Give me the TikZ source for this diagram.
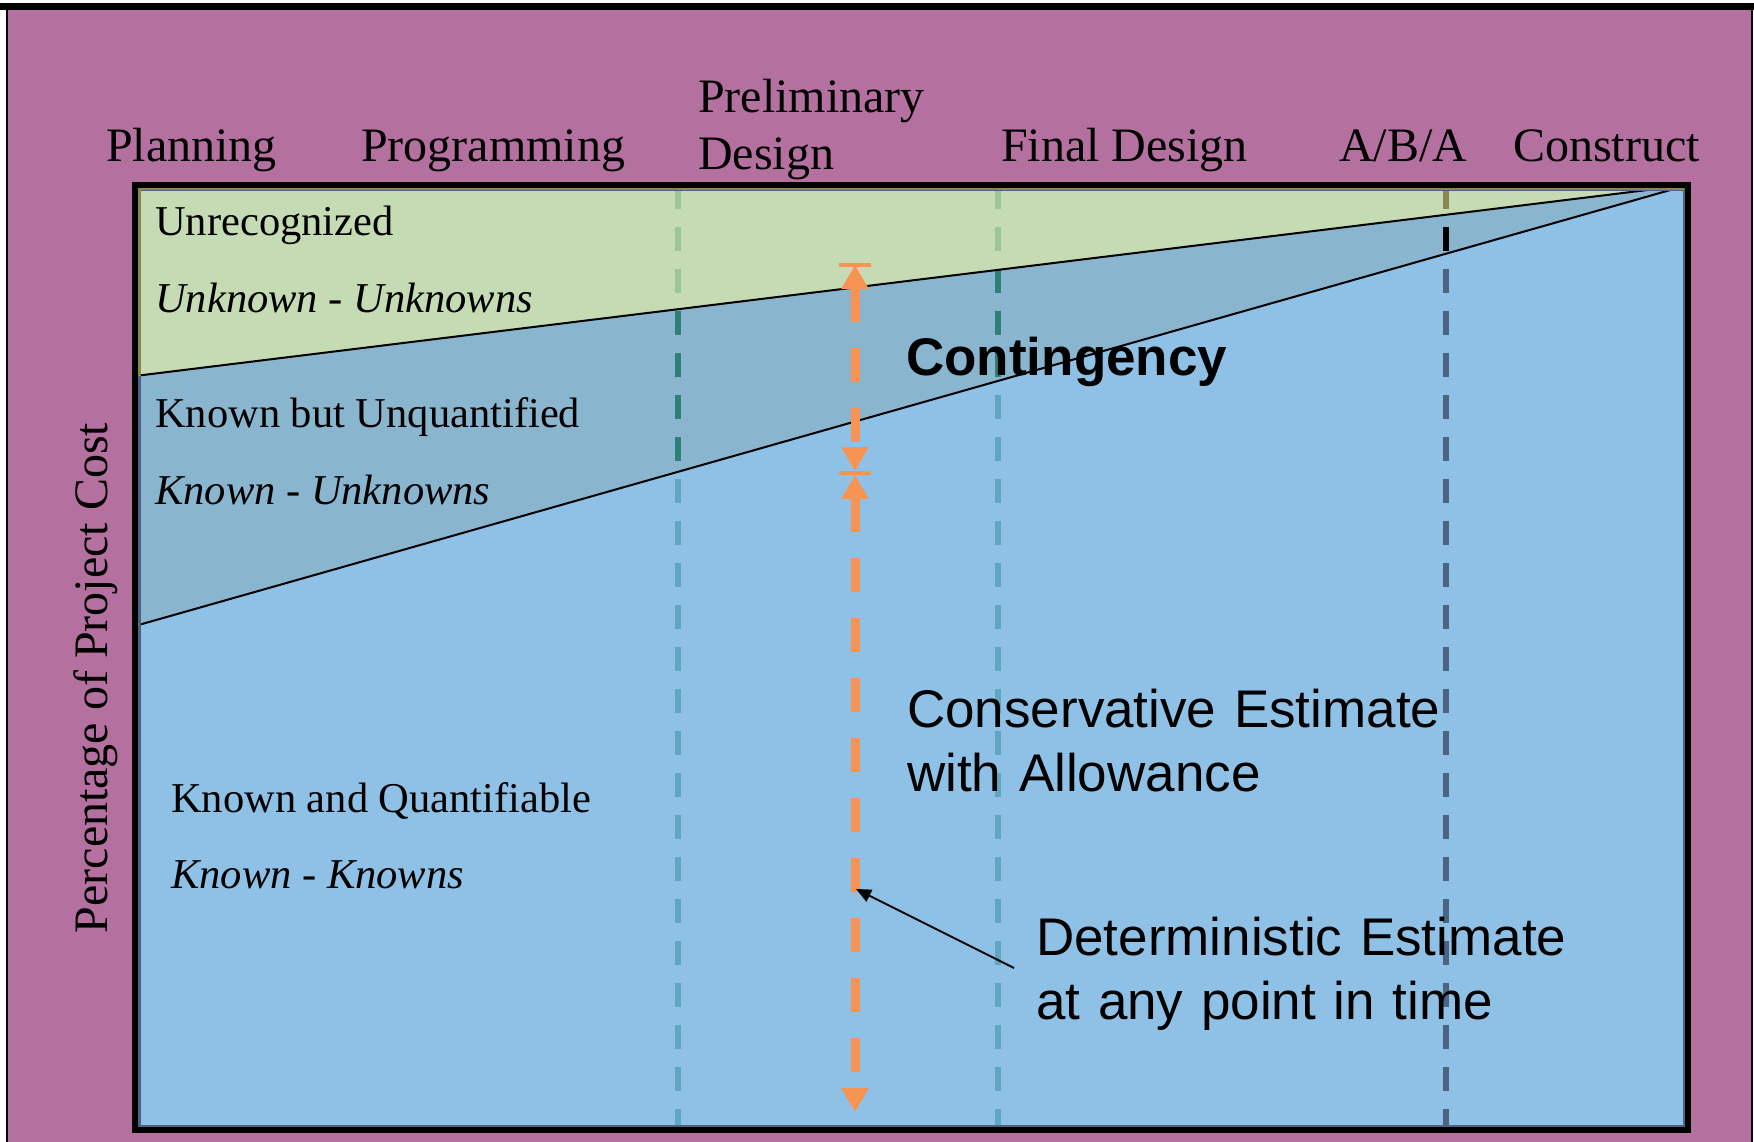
\documentclass[tikz,border=0pt]{standalone}
\usepackage{fontspec}
\setmainfont{Liberation Serif}
\newfontfamily\arialf{Liberation Sans}
\usetikzlibrary{arrows.meta}
\definecolor{purp}{HTML}{B4709F}
\definecolor{greenreg}{HTML}{C5DBB4}
\definecolor{midreg}{HTML}{8AB5CF}
\definecolor{lowreg}{HTML}{8FC0E5}
\definecolor{orng}{HTML}{F79454}
\definecolor{dashgreen}{HTML}{9DC693}
\definecolor{dashteal}{HTML}{2E8077}
\definecolor{dashlight}{HTML}{5EA7BE}
\definecolor{dasholive}{HTML}{8B8752}
\definecolor{dashslate}{HTML}{4A6482}
\begin{document}
\begin{tikzpicture}[x=1pt,y=-1pt,
  hdr/.style={inner sep=0pt, anchor=base west, font=\fontsize{48}{57}\selectfont},
  lbl/.style={inner sep=0pt, anchor=base west, font=\fontsize{42.5}{50}\selectfont},
  ilbl/.style={lbl, font=\fontsize{42.5}{50}\selectfont\itshape},
  sns/.style={inner sep=0pt, anchor=base west, align=left, text width=700pt, font=\arialf\fontsize{53}{64}\selectfont},
  phase/.style={line width=6pt, dash pattern=on 24pt off 18pt},
  orarrow/.style={orng, line width=9pt, dash pattern=on 34pt off 26pt},
  tee/.style={orng, line width=4.5pt},
  divider/.style={black, line width=2pt}
]
\useasboundingbox (0,0) rectangle (1754,1142);
% outer frame
\fill[white] (0,0) rectangle (1754,1142);
\fill[purp] (7,10) rectangle (1752,1142);
\fill[black] (0,3) rectangle (1754,10);
\draw[black, line width=2.5pt] (7,10) -- (7,1142);
\draw[black, line width=2pt] (1752,10) -- (1752,1142);

% regions
\coordinate (tl) at (135,185);
\coordinate (tr) at (1688,185);
\coordinate (br) at (1688,1130);
\coordinate (bl) at (135,1130);
\coordinate (u0) at (135,376);
\coordinate (l0) at (135,626);
\fill[greenreg] (tl) -- (tr) -- (u0) -- cycle;
\fill[midreg] (u0) -- (tr) -- (l0) -- cycle;
\fill[lowreg] (l0) -- (tr) -- (br) -- (bl) -- cycle;

% dashed phase lines, coloured per region
\foreach \xx/\ca/\cb/\cc in {678/dashgreen/dashteal/dashlight, 998/dashgreen/dashteal/dashlight, 1446/dasholive/black/dashslate}{
  \begin{scope}
    \clip (tl) -- (tr) -- (u0) -- cycle;
    \draw[phase, \ca] (\xx,185) -- (\xx,1130);
  \end{scope}
  \begin{scope}
    \clip (u0) -- (tr) -- (l0) -- cycle;
    \draw[phase, \cb] (\xx,185) -- (\xx,1130);
  \end{scope}
  \begin{scope}
    \clip (l0) -- (tr) -- (br) -- (bl) -- cycle;
    \draw[phase, \cc] (\xx,185) -- (\xx,1130);
  \end{scope}
}

% dividing lines
\draw[divider] (u0) -- (tr);
\draw[divider] (l0) -- (tr);

% box border
\draw[dashslate, line width=3pt] (139.5,189.5) rectangle (1684.5,1126.5);
\draw[dasholive, line width=3pt] (139.5,376) -- (139.5,188.5) -- (1684,188.5);
\draw[black, line width=6pt] (tl) rectangle (br);

% headers
\node[hdr] (planning) at (106,162) {Planning};
\node[hdr] (programming) at (361,162) {Programming};
\node[hdr] (prelim1) at (698,113) {Preliminary};
\node[hdr] (prelim2) at (698,170) {Design};
\node[hdr] (final) at (1001,162) {Final Design};
\node[hdr] (aba) at (1339,162) {A/B/A};
\node[hdr] (construct) at (1513,162) {Construct};

% axis label
\node[inner sep=0pt, anchor=base, rotate=90, font=\fontsize{48}{57}\selectfont] (ylab) at (107,678) {Percentage of Project Cost};

% region labels
\node[lbl] (unrec) at (155,236) {Unrecognized};
\node[ilbl] (uu) at (155,312) {Unknown - Unknowns};
\node[lbl] (kbu) at (155,427) {Known but Unquantified};
\node[ilbl] (ku) at (155,504) {Known - Unknowns};
\node[lbl] (kaq) at (171,812) {Known and Quantifiable};
\node[ilbl] (kk) at (171,888) {Known - Knowns};

% sans labels
\node[inner sep=0pt, anchor=base west, font=\arialf\bfseries\fontsize{53}{64}\selectfont] (cont) at (906,375) {Contingency};
\node[sns] (cons) at (907,727) {Conservative Estimate\\with Allowance};
\node[sns] (det) at (1036,955) {Deterministic Estimate\\at any point in time};

% orange dimension arrows
\coordinate (a1) at (855,265);
\coordinate (a2) at (855,471);
\coordinate (b1) at (855,475);
\coordinate (b2) at (855,1112);
\draw[tee] ([xshift=-16pt]a1) -- ([xshift=16pt]a1);
\draw[tee] ([xshift=-16pt]855,473) -- ([xshift=16pt]855,473);
\draw[orarrow, {Triangle[width=26pt,length=24pt]}-{Triangle[width=26pt,length=24pt]}] (a1) -- (a2);
\draw[orarrow, {Triangle[width=26pt,length=24pt]}-{Triangle[width=26pt,length=24pt]}] (b1) -- (b2);

% pointer arrow
\coordinate (dtip) at (856,889);
\draw[black, line width=2pt, -{Triangle[width=13pt,length=15pt]}] ([shift={(-22,13)}]det.base west) -- (dtip);
\end{tikzpicture}
\end{document}
